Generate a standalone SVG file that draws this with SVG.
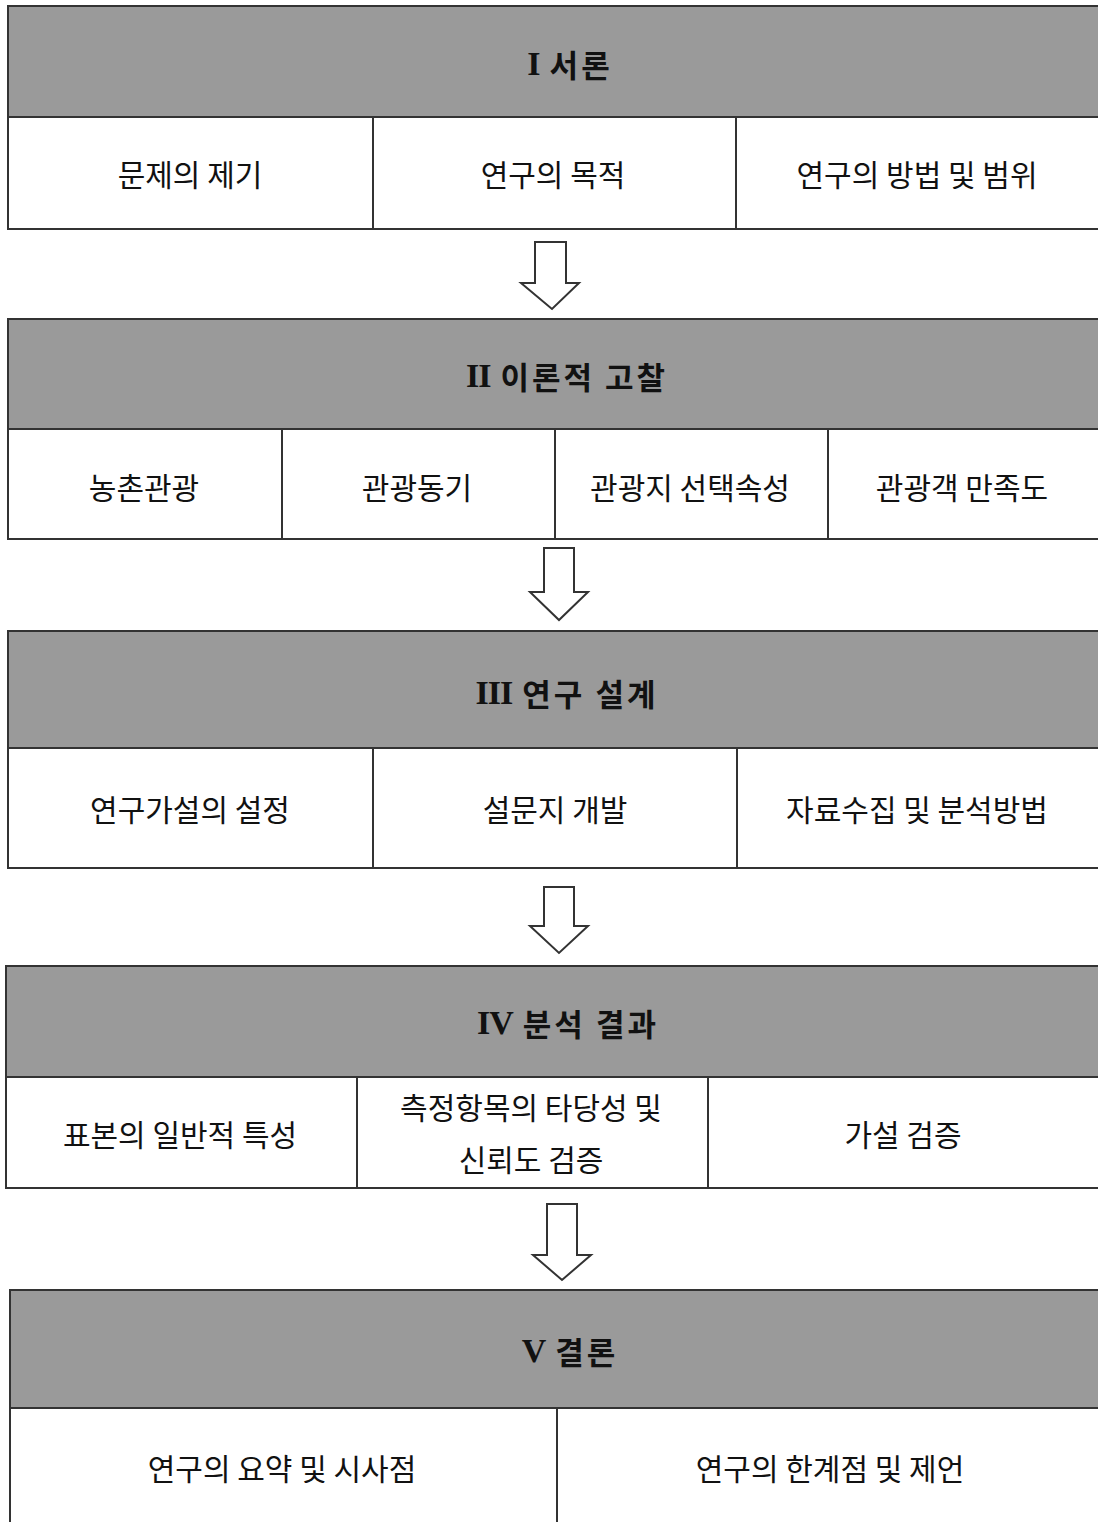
<svg xmlns="http://www.w3.org/2000/svg" width="1098" height="1522" viewBox="0 0 1098 1522">
<style>
.hd{fill:#9a9a9a;stroke:#333;stroke-width:2}
.cell{fill:#fff;stroke:#333;stroke-width:2}
.ht{font-family:"Noto Sans CJK KR","Noto Sans",sans-serif;font-size:31px;font-weight:bold;fill:#111;text-anchor:middle;dominant-baseline:central;letter-spacing:3px}
.rn{font-family:"Liberation Serif",serif;font-weight:bold;font-size:34px;letter-spacing:-1px}
.ct{font-family:"Noto Sans CJK KR","Noto Sans",sans-serif;font-size:30px;fill:#111;text-anchor:middle;dominant-baseline:central}
.arr{fill:#fff;stroke:#333;stroke-width:2;stroke-linejoin:miter}
</style>
<rect width="1098" height="1522" fill="#fff"/>
<g id="s1">
<rect class="hd" x="8" y="6" width="1100" height="111"/>
<text class="ht" x="570" y="63"><tspan class="rn">I</tspan>  서론</text>
</g>
<g id="s1a"><rect class="cell" x="8" y="117" width="365" height="112"/><text class="ct" x="190" y="173">문제의 제기</text></g>
<g id="s1b"><rect class="cell" x="373" y="117" width="363" height="112"/><text class="ct" x="553" y="173">연구의 목적</text></g>
<g id="s1c"><rect class="cell" x="736" y="117" width="372" height="112"/><text class="ct" x="917" y="173">연구의 방법 및 범위</text></g>

<g id="s2">
<rect class="hd" x="8" y="319" width="1100" height="110"/>
<text class="ht" x="567" y="375"><tspan class="rn">II</tspan>  이론적 고찰</text>
</g>
<g id="s2a"><rect class="cell" x="8" y="429" width="274" height="110"/><text class="ct" x="144" y="486">농촌관광</text></g>
<g id="s2b"><rect class="cell" x="282" y="429" width="273" height="110"/><text class="ct" x="417" y="486">관광동기</text></g>
<g id="s2c"><rect class="cell" x="555" y="429" width="273" height="110"/><text class="ct" x="690" y="486">관광지 선택속성</text></g>
<g id="s2d"><rect class="cell" x="828" y="429" width="280" height="110"/><text class="ct" x="962" y="486">관광객 만족도</text></g>

<g id="s3">
<rect class="hd" x="8" y="631" width="1100" height="117"/>
<text class="ht" x="567" y="692"><tspan class="rn">III</tspan> 연구 설계</text>
</g>
<g id="s3a"><rect class="cell" x="8" y="748" width="365" height="120"/><text class="ct" x="190" y="808">연구가설의 설정</text></g>
<g id="s3b"><rect class="cell" x="373" y="748" width="364" height="120"/><text class="ct" x="555" y="808">설문지 개발</text></g>
<g id="s3c"><rect class="cell" x="737" y="748" width="371" height="120"/><text class="ct" x="917" y="808">자료수집 및 분석방법</text></g>

<g id="s4">
<rect class="hd" x="6" y="966" width="1102" height="111"/>
<text class="ht" x="568" y="1022"><tspan class="rn">IV</tspan> 분석 결과</text>
</g>
<g id="s4a"><rect class="cell" x="6" y="1077" width="351" height="111"/><text class="ct" x="180" y="1133">표본의 일반적 특성</text></g>
<g id="s4b"><rect class="cell" x="357" y="1077" width="351" height="111"/><text class="ct" x="531" y="1106">측정항목의 타당성 및</text><text class="ct" x="531" y="1158">신뢰도 검증</text></g>
<g id="s4c"><rect class="cell" x="708" y="1077" width="400" height="111"/><text class="ct" x="903" y="1133">가설 검증</text></g>

<g id="s5">
<rect class="hd" x="10" y="1290" width="1098" height="118"/>
<text class="ht" x="570" y="1350"><tspan class="rn">V</tspan>  결론</text>
</g>
<g id="s5a"><rect class="cell" x="10" y="1408" width="547" height="124"/><text class="ct" x="282" y="1467">연구의 요약 및 시사점</text></g>
<g id="s5b"><rect class="cell" x="557" y="1408" width="551" height="124"/><text class="ct" x="830" y="1467">연구의 한계점 및 제언</text></g>

<g id="connectors">
<path class="arr" d="M535,242 H566 V283 H579 L552,309 L521,283 H535 Z"/>
<path class="arr" d="M544,548 H574 V592 H588 L559,620 L530,592 H544 Z"/>
<path class="arr" d="M544,887 H574 V926 H588 L559,953 L530,926 H544 Z"/>
<path class="arr" d="M547,1204 H577 V1255 H591 L562,1280 L533,1255 H547 Z"/>
</g>
</svg>
